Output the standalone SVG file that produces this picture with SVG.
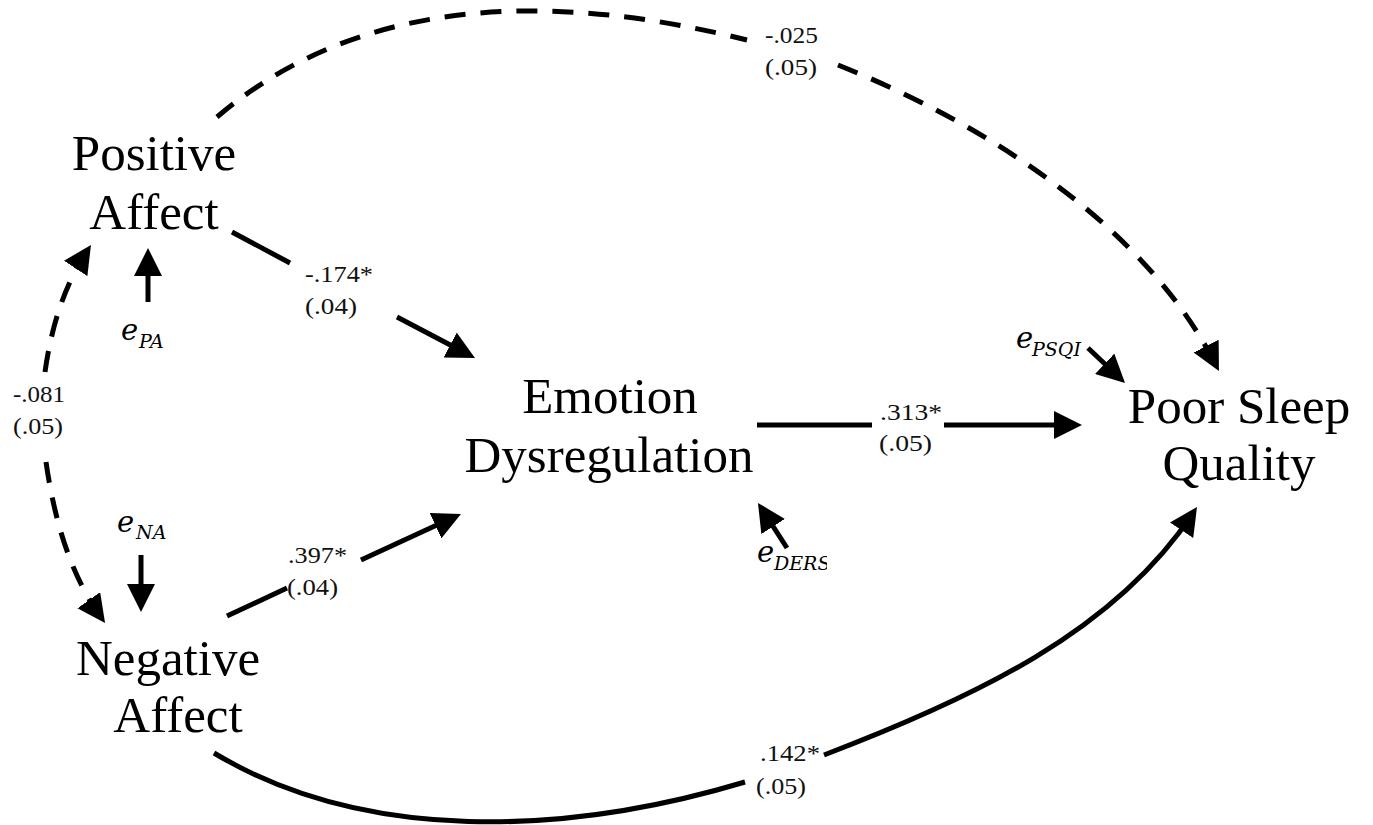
<svg xmlns="http://www.w3.org/2000/svg" width="1373" height="825" viewBox="0 0 1373 825">
<style>
.node{font-family:"Liberation Serif","Times New Roman",serif;font-size:51px;fill:#000;text-anchor:middle}
.lbl{font-family:"Liberation Serif","Times New Roman",serif;font-size:24px;fill:#111}
.e{font-family:"DejaVu Serif",serif;font-style:italic;font-size:29px;fill:#000}
.sub{font-family:"DejaVu Serif",serif;font-style:italic;font-size:19px;fill:#000}
.ln{fill:none;stroke:#000;stroke-width:5}
.ar{marker-end:url(#ah)}
.dash{stroke-dasharray:21 15}
</style>
<defs>
<marker id="ah" markerUnits="userSpaceOnUse" markerWidth="28" markerHeight="28" viewBox="0 0 28 28" refX="20" refY="14" orient="auto">
<path d="M0,0 L28,14 L0,28 Z" fill="#000"/>
</marker>
<clipPath id="clipDers"><rect x="0" y="0" width="827" height="825"/></clipPath>
</defs>
<rect width="1373" height="825" fill="#fff"/>

<g id="connectors">
<!-- PA -> ED -->
<path class="ln" d="M232,232 L290,263"/>
<path class="ln ar" d="M397,317 L467.9,354.3"/>
<!-- ED -> PSQ -->
<path class="ln" d="M757,425 L872,425"/>
<path class="ln ar" d="M944,425 L1074,425"/>
<!-- NA -> ED -->
<path class="ln" d="M227,616 L287,588"/>
<path class="ln ar" d="M361,560 L453.7,517.3"/>
<!-- PA <-> NA covariance -->
<path class="ln dash ar" d="M45,372 Q55,300 86.6,251.7"/>
<path class="ln dash ar" d="M46,462 Q60,560 100.4,616.5"/>
<!-- PA -> PSQ (dashed) -->
<path class="ln dash" d="M217,117 C367,-10.5 567,-5 747,40"/>
<path class="ln dash ar" d="M838,65 C998,129 1147.5,231.5 1215.3,363.9"/>
<!-- NA -> PSQ -->
<path class="ln" d="M214,753 C364,843 565,836 745,782"/>
<path class="ln ar" d="M824,755 C974,698 1114.5,631.5 1192.6,513.6"/>
<!-- error terms -->
<path class="ln ar" d="M148,302 L148,256"/>
<path class="ln ar" d="M141,555 L141,604"/>
<path class="ln ar" d="M787,548 L762.3,509.7"/>
<path class="ln ar" d="M1088,348 L1119.2,377.5"/>
</g>

<g id="edge-labels">
<text class="lbl" x="765" y="43" textLength="53" lengthAdjust="spacingAndGlyphs">-.025</text>
<text class="lbl" x="765" y="75" textLength="52" lengthAdjust="spacingAndGlyphs">(.05)</text>
<text class="lbl" x="305" y="282" textLength="68" lengthAdjust="spacingAndGlyphs">-.174*</text>
<text class="lbl" x="305" y="314" textLength="52" lengthAdjust="spacingAndGlyphs">(.04)</text>
<text class="lbl" x="13" y="402" textLength="52" lengthAdjust="spacingAndGlyphs">-.081</text>
<text class="lbl" x="13" y="434" textLength="50" lengthAdjust="spacingAndGlyphs">(.05)</text>
<text class="lbl" x="288" y="563" textLength="59" lengthAdjust="spacingAndGlyphs">.397*</text>
<text class="lbl" x="287" y="595" textLength="51" lengthAdjust="spacingAndGlyphs">(.04)</text>
<text class="lbl" x="880" y="420" textLength="62" lengthAdjust="spacingAndGlyphs">.313*</text>
<text class="lbl" x="879" y="451" textLength="53" lengthAdjust="spacingAndGlyphs">(.05)</text>
<text class="lbl" x="760" y="761" textLength="60" lengthAdjust="spacingAndGlyphs">.142*</text>
<text class="lbl" x="756" y="794" textLength="50" lengthAdjust="spacingAndGlyphs">(.05)</text>
</g>

<g id="node-positive-affect">
<text class="node" x="154" y="170">Positive</text>
<text class="node" x="154" y="229">Affect</text>
</g>
<g id="node-negative-affect">
<text class="node" x="168" y="675">Negative</text>
<text class="node" x="178" y="732">Affect</text>
</g>
<g id="node-emotion-dysregulation">
<text class="node" x="610" y="413">Emotion</text>
<text class="node" x="609" y="472">Dysregulation</text>
</g>
<g id="node-poor-sleep-quality">
<text class="node" x="1239" y="423">Poor Sleep</text>
<text class="node" x="1239" y="480">Quality</text>
</g>

<g id="err-pa">
<text class="e" x="121" y="340">e</text><text class="sub" x="139" y="348">PA</text>
</g>
<g id="err-na">
<text class="e" x="117" y="532">e</text><text class="sub" x="136" y="539">NA</text>
</g>
<g id="err-ders" clip-path="url(#clipDers)">
<text class="e" x="757" y="562">e</text><text class="sub" x="774" y="570">DERS</text>
</g>
<g id="err-psqi">
<text class="e" x="1016" y="348">e</text><text class="sub" x="1032" y="356">PSQI</text>
</g>
</svg>
